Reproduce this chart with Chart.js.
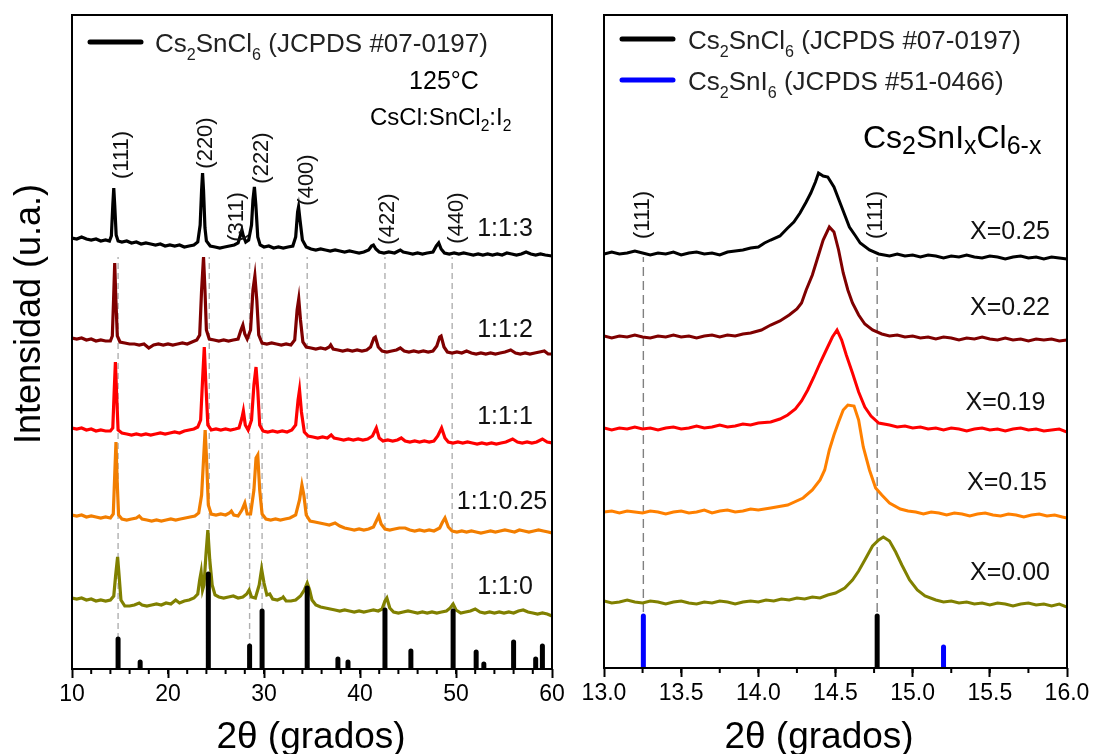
<!DOCTYPE html>
<html>
<head>
<meta charset="utf-8">
<title>XRD Cs2SnIxCl6-x</title>
<script src="https://cdn.jsdelivr.net/npm/chart.js@4.4.0/dist/chart.umd.min.js"></script>
<style>
  html, body { margin: 0; padding: 0; background: #fff; }
  #wrap { position: relative; width: 1113px; height: 754px; }
  #wrap canvas { position: absolute; left: 0; top: 0; }
</style>
</head>
<body>
<div id="wrap">
  <canvas id="left" width="1113" height="754"></canvas>
  <canvas id="right" width="1113" height="754"></canvas>
</div>
<script>
const FONT = '"Liberation Sans", Arial, Helvetica, sans-serif';

// ---------- left panel: 2θ 10-60, intensity (a.u., traces stacked) ----------
const r113 = [
  [10.0, 431], [10.5, 430], [11.0, 432], [11.5, 430], [12.0, 429], [12.5, 430], [13.0, 428], [13.5, 429],
  [13.9, 428], [14.1, 433], [14.25, 464], [14.35, 481], [14.45, 464], [14.6, 434], [14.8, 428], [15.2, 427],
  [15.7, 428], [16.2, 426], [16.7, 427], [17.2, 425], [17.7, 426], [18.2, 425], [18.7, 424], [19.2, 425],
  [19.7, 423], [20.2, 424], [20.7, 423], [21.2, 424], [21.7, 422], [22.2, 423], [22.7, 424], [23.1, 427],
  [23.35, 444], [23.5, 479], [23.6, 496], [23.7, 479], [23.85, 441], [24.0, 428], [24.4, 423], [24.9, 422],
  [25.4, 421], [25.9, 422], [26.4, 423], [26.9, 424], [27.3, 426], [27.55, 434], [27.7, 439], [27.85, 433],
  [28.1, 427], [28.4, 429], [28.7, 444], [28.85, 469], [29.0, 482], [29.15, 464], [29.35, 432], [29.6, 424],
  [30.0, 422], [30.5, 423], [31.0, 421], [31.5, 422], [32.0, 421], [32.5, 422], [33.0, 423], [33.3, 432],
  [33.5, 457], [33.6, 462], [33.75, 449], [34.0, 429], [34.4, 422], [34.9, 420], [35.4, 419], [35.9, 420],
  [36.4, 419], [36.9, 418], [37.4, 419], [37.9, 418], [38.4, 417], [38.9, 418], [39.4, 417], [39.9, 416],
  [40.4, 417], [40.9, 419], [41.2, 423], [41.4, 424], [41.65, 420], [42.0, 417], [42.5, 416], [43.0, 417],
  [43.6, 416], [44.0, 418], [44.2, 419], [44.5, 417], [45.0, 416], [45.5, 415], [46.0, 416], [46.5, 415],
  [47.0, 416], [47.6, 417], [47.95, 423], [48.2, 426], [48.45, 420], [48.8, 416], [49.3, 415], [49.8, 416],
  [50.3, 415], [50.8, 416], [51.3, 415], [51.8, 414], [52.3, 415], [52.8, 414], [53.3, 415], [53.8, 414],
  [54.3, 415], [54.8, 414], [55.3, 416], [55.8, 415], [56.3, 414], [56.8, 415], [57.3, 417], [57.8, 415],
  [58.3, 414], [58.8, 415], [59.3, 414], [60.0, 413]
];
const r112 = [
  [10.0, 331], [10.5, 330], [11.0, 331], [11.5, 329], [12.0, 330], [12.5, 328], [13.0, 329], [13.5, 328],
  [14.0, 328], [14.2, 333], [14.33, 369], [14.45, 406], [14.57, 369], [14.72, 333], [15.0, 327], [15.5, 326],
  [16.0, 325], [16.5, 325], [17.0, 324], [17.5, 325], [18.0, 321], [18.5, 324], [19.0, 325], [19.5, 324],
  [20.0, 325], [20.5, 324], [21.0, 325], [21.5, 326], [22.0, 325], [22.5, 327], [23.0, 329], [23.3, 334],
  [23.5, 379], [23.7, 412], [23.85, 379], [24.0, 339], [24.3, 330], [24.8, 329], [25.3, 328], [25.8, 329],
  [26.3, 328], [26.8, 329], [27.3, 330], [27.6, 339], [27.8, 344], [28.0, 335], [28.25, 330], [28.6, 339],
  [28.85, 379], [29.05, 393], [29.25, 369], [29.45, 334], [29.8, 326], [30.3, 325], [30.8, 326], [31.3, 325],
  [31.8, 324], [32.3, 325], [32.8, 324], [33.2, 329], [33.45, 359], [33.62, 370], [33.8, 349], [34.05, 327],
  [34.4, 322], [34.9, 321], [35.4, 320], [35.9, 321], [36.4, 320], [36.8, 322], [36.95, 324], [37.2, 320],
  [37.7, 319], [38.2, 318], [38.7, 319], [39.2, 318], [39.7, 319], [40.2, 318], [40.7, 319], [41.1, 322],
  [41.45, 331], [41.6, 332], [41.9, 322], [42.3, 318], [42.8, 317], [43.3, 318], [43.8, 319], [44.2, 321],
  [44.6, 318], [45.1, 317], [45.6, 318], [46.1, 317], [46.6, 318], [47.1, 317], [47.6, 318], [48.0, 323],
  [48.3, 332], [48.45, 333], [48.75, 322], [49.1, 317], [49.6, 316], [50.1, 317], [50.6, 316], [51.1, 318],
  [51.6, 316], [52.1, 315], [52.6, 316], [53.1, 315], [53.6, 316], [54.1, 315], [54.6, 316], [55.1, 317],
  [55.7, 319], [56.2, 316], [56.7, 315], [57.2, 316], [57.7, 315], [58.2, 316], [58.7, 317], [59.2, 318],
  [59.6, 315], [60.0, 315]
];
const r111 = [
  [10.0, 241], [10.5, 240], [11.0, 241], [11.5, 239], [12.0, 240], [12.5, 238], [13.0, 239], [13.5, 238],
  [14.0, 238], [14.25, 241], [14.4, 279], [14.52, 307], [14.65, 274], [14.8, 239], [15.2, 236], [15.7, 235],
  [16.2, 234], [16.7, 235], [17.2, 234], [17.7, 235], [18.2, 234], [18.7, 235], [19.2, 236], [19.7, 235],
  [20.2, 236], [20.7, 237], [21.2, 236], [21.7, 238], [22.2, 239], [22.7, 240], [23.1, 242], [23.4, 249],
  [23.6, 289], [23.78, 322], [23.95, 284], [24.15, 244], [24.5, 239], [25.0, 240], [25.5, 239], [26.0, 240],
  [26.5, 239], [27.0, 240], [27.4, 241], [27.7, 251], [27.85, 258], [28.05, 244], [28.35, 239], [28.7, 249],
  [28.95, 284], [29.17, 302], [29.35, 279], [29.55, 244], [29.9, 238], [30.4, 237], [30.9, 238], [31.4, 237],
  [31.9, 238], [32.4, 237], [32.9, 239], [33.3, 244], [33.55, 269], [33.7, 279], [33.9, 257], [34.2, 237],
  [34.6, 233], [35.1, 232], [35.6, 231], [36.1, 232], [36.6, 231], [37.0, 234], [37.3, 231], [37.8, 230],
  [38.3, 229], [38.8, 230], [39.3, 229], [39.8, 230], [40.3, 229], [40.8, 230], [41.3, 233], [41.7, 241],
  [42.0, 231], [42.4, 228], [42.9, 229], [43.4, 228], [43.9, 229], [44.3, 231], [44.7, 228], [45.2, 227],
  [45.7, 228], [46.2, 227], [46.7, 228], [47.2, 227], [47.7, 228], [48.1, 233], [48.5, 241], [48.85, 231],
  [49.2, 227], [49.7, 226], [50.2, 227], [50.7, 226], [51.2, 227], [51.7, 226], [52.2, 225], [52.7, 226],
  [53.2, 225], [53.7, 226], [54.2, 225], [54.7, 226], [55.2, 227], [55.9, 230], [56.4, 227], [56.9, 226],
  [57.4, 227], [57.9, 226], [58.4, 227], [59.0, 230], [59.5, 227], [60.0, 226]
];
const r11025 = [
  [10.0, 154], [10.5, 153], [11.0, 154], [11.5, 152], [12.0, 153], [12.5, 152], [13.0, 151], [13.5, 152],
  [14.0, 151], [14.3, 155], [14.45, 194], [14.58, 227], [14.7, 189], [14.85, 154], [15.2, 150], [15.7, 149],
  [16.2, 150], [16.7, 151], [17.0, 153], [17.3, 150], [17.8, 149], [18.3, 148], [18.8, 149], [19.3, 148],
  [19.8, 149], [20.3, 150], [20.8, 149], [21.3, 150], [21.8, 151], [22.3, 152], [22.8, 153], [23.2, 156],
  [23.5, 174], [23.7, 209], [23.87, 239], [24.02, 209], [24.2, 164], [24.5, 155], [25.0, 154], [25.5, 155],
  [26.0, 154], [26.4, 156], [26.6, 158], [26.85, 154], [27.3, 153], [27.7, 159], [28.0, 166], [28.25, 155],
  [28.6, 155], [28.95, 179], [29.17, 211], [29.35, 214], [29.55, 179], [29.8, 155], [30.2, 150], [30.7, 149],
  [31.2, 150], [31.7, 149], [32.2, 150], [32.7, 151], [33.3, 154], [33.7, 169], [33.95, 184], [34.15, 174],
  [34.4, 154], [34.8, 148], [35.3, 147], [35.8, 146], [36.3, 145], [36.8, 144], [37.4, 146], [37.9, 143],
  [38.4, 141], [38.9, 140], [39.4, 139], [39.9, 140], [40.4, 139], [40.9, 140], [41.4, 142], [41.75, 149],
  [41.95, 153], [42.2, 145], [42.6, 140], [43.1, 139], [43.6, 140], [44.1, 141], [44.7, 141], [45.2, 139],
  [45.7, 138], [46.2, 139], [46.7, 138], [47.2, 139], [47.7, 138], [48.3, 141], [48.6, 147], [48.85, 151],
  [49.2, 142], [49.6, 138], [50.1, 137], [50.6, 138], [51.1, 137], [51.6, 138], [52.1, 137], [52.6, 136],
  [53.1, 137], [53.6, 138], [54.1, 137], [54.6, 138], [55.1, 139], [55.6, 138], [56.1, 137], [56.6, 139],
  [57.1, 138], [57.6, 137], [58.1, 138], [58.6, 139], [59.1, 138], [59.6, 137], [60.0, 136]
];
const r110 = [
  [10.0, 71], [10.5, 70], [11.0, 71], [11.5, 69], [12.0, 70], [12.5, 68], [13.0, 69], [13.5, 68],
  [14.0, 69], [14.35, 73], [14.55, 94], [14.75, 112], [14.9, 94], [15.1, 69], [15.5, 63], [16.0, 63],
  [16.5, 64], [17.0, 66], [17.3, 64], [17.8, 63], [18.3, 64], [18.8, 65], [19.3, 64], [19.8, 66],
  [20.3, 65], [20.8, 69], [21.2, 66], [21.7, 68], [22.2, 69], [22.7, 71], [23.1, 75], [23.3, 89],
  [23.45, 97], [23.6, 79], [23.75, 84], [23.95, 114], [24.15, 139], [24.35, 109], [24.6, 84], [24.9, 74],
  [25.3, 72], [25.8, 71], [26.3, 72], [26.8, 73], [27.3, 71], [27.8, 72], [28.2, 75], [28.45, 79],
  [28.7, 72], [29.1, 71], [29.5, 84], [29.75, 100], [30.0, 86], [30.3, 74], [30.6, 75], [30.9, 70],
  [31.4, 69], [31.9, 71], [32.0, 72], [32.3, 68], [32.8, 68], [33.3, 69], [33.8, 73], [34.2, 79],
  [34.5, 86], [34.75, 79], [35.0, 69], [35.4, 64], [35.9, 62], [36.4, 61], [36.9, 60], [37.4, 59],
  [37.9, 58], [38.4, 59], [38.9, 58], [39.4, 57], [39.9, 58], [40.4, 57], [40.9, 58], [41.4, 59],
  [41.9, 58], [42.3, 60], [42.6, 68], [42.8, 71], [43.1, 61], [43.5, 57], [44.0, 56], [44.5, 57],
  [45.0, 58], [45.5, 57], [46.0, 56], [46.5, 57], [47.0, 56], [47.5, 57], [48.0, 56], [48.5, 57],
  [49.0, 58], [49.4, 61], [49.7, 65], [50.0, 59], [50.5, 56], [51.0, 57], [51.5, 58], [52.0, 60],
  [52.5, 57], [53.0, 56], [53.5, 57], [54.0, 56], [54.5, 57], [55.0, 56], [55.5, 57], [56.0, 56],
  [56.5, 58], [57.0, 59], [57.5, 57], [58.0, 56], [58.5, 55], [59.0, 56], [59.5, 55], [60.0, 53]
];
// Cs2SnCl6 JCPDS #07-0197 reference lines
const clPos = [14.8, 17.1, 24.2, 28.5, 29.8, 34.5, 37.7, 38.75, 42.6, 45.3, 49.7, 52.1, 52.9, 56.0, 58.3, 59.0];
const clInt = [30, 7, 95, 23, 58, 81, 10, 7, 59, 18, 58, 17, 5, 27, 10, 23];
const guidesLeft = [14.8, 24.3, 28.5, 29.8, 34.5, 42.6, 49.6];

// ---------- right panel: 2θ 13-16 ----------
const x025 = [
  [13.0, 414], [13.05, 416], [13.1, 414], [13.15, 415], [13.2, 417], [13.25, 415], [13.3, 413], [13.35, 415],
  [13.4, 414], [13.45, 416], [13.5, 413], [13.55, 415], [13.6, 416], [13.65, 414], [13.7, 415], [13.75, 413],
  [13.8, 416], [13.85, 417], [13.9, 418], [13.95, 420], [14.0, 421], [14.04, 425], [14.08, 428], [14.14, 432],
  [14.19, 440], [14.23, 446], [14.27, 455], [14.31, 466], [14.34, 475], [14.37, 486], [14.39, 495], [14.42, 492],
  [14.45, 491], [14.49, 481], [14.53, 465], [14.56, 453], [14.59, 441], [14.63, 432], [14.66, 425], [14.72, 418],
  [14.78, 414], [14.85, 412], [14.9, 414], [14.95, 412], [15.0, 413], [15.05, 411], [15.1, 413], [15.15, 412],
  [15.2, 410], [15.25, 412], [15.3, 411], [15.35, 413], [15.4, 411], [15.45, 410], [15.5, 412], [15.55, 411],
  [15.6, 409], [15.65, 411], [15.7, 412], [15.75, 410], [15.8, 411], [15.85, 409], [15.9, 411], [15.95, 410],
  [16.0, 409]
];
const x022 = [
  [13.0, 332], [13.05, 330], [13.1, 332], [13.15, 331], [13.2, 333], [13.25, 331], [13.3, 330], [13.35, 332],
  [13.4, 331], [13.45, 333], [13.5, 331], [13.55, 332], [13.6, 330], [13.65, 332], [13.7, 333], [13.75, 331],
  [13.8, 333], [13.85, 332], [13.9, 334], [13.95, 335], [14.02, 338], [14.08, 343], [14.14, 347], [14.2, 353],
  [14.25, 359], [14.28, 365], [14.31, 378], [14.35, 393], [14.38, 408], [14.42, 428], [14.46, 441], [14.49, 436],
  [14.52, 418], [14.55, 395], [14.58, 378], [14.61, 365], [14.65, 353], [14.69, 344], [14.74, 338], [14.8, 334],
  [14.85, 332], [14.9, 333], [14.95, 331], [15.0, 332], [15.05, 330], [15.1, 331], [15.15, 329], [15.2, 331],
  [15.25, 330], [15.3, 328], [15.35, 330], [15.4, 329], [15.45, 331], [15.5, 329], [15.55, 328], [15.6, 330],
  [15.65, 328], [15.7, 329], [15.75, 327], [15.8, 329], [15.85, 328], [15.9, 329], [15.95, 327], [16.0, 328]
];
const x019 = [
  [13.0, 240], [13.05, 238], [13.1, 240], [13.15, 239], [13.2, 241], [13.25, 239], [13.3, 240], [13.35, 238],
  [13.4, 240], [13.45, 241], [13.5, 239], [13.55, 240], [13.6, 242], [13.65, 240], [13.7, 241], [13.75, 243],
  [13.8, 241], [13.85, 242], [13.9, 244], [13.95, 243], [14.0, 245], [14.08, 246], [14.14, 249], [14.19, 253],
  [14.24, 259], [14.28, 267], [14.32, 278], [14.36, 291], [14.4, 305], [14.44, 318], [14.48, 331], [14.51, 338],
  [14.54, 328], [14.57, 313], [14.61, 295], [14.65, 276], [14.69, 261], [14.73, 252], [14.78, 245], [14.85, 243],
  [14.9, 241], [14.95, 242], [15.0, 240], [15.05, 241], [15.1, 239], [15.15, 240], [15.2, 238], [15.25, 240],
  [15.3, 239], [15.35, 237], [15.4, 239], [15.45, 240], [15.5, 238], [15.55, 239], [15.6, 237], [15.65, 239],
  [15.7, 240], [15.75, 238], [15.8, 239], [15.85, 237], [15.9, 238], [15.95, 239], [16.0, 236]
];
const x015 = [
  [13.0, 156], [13.05, 157], [13.1, 155], [13.15, 157], [13.2, 156], [13.25, 155], [13.3, 157], [13.35, 156],
  [13.4, 154], [13.45, 156], [13.5, 157], [13.55, 155], [13.6, 156], [13.65, 158], [13.7, 155], [13.75, 157],
  [13.8, 158], [13.85, 156], [13.9, 157], [13.95, 159], [14.0, 158], [14.08, 160], [14.19, 163], [14.29, 170],
  [14.35, 178], [14.4, 188], [14.43, 198], [14.46, 218], [14.49, 233], [14.52, 246], [14.55, 258], [14.58, 263],
  [14.62, 262], [14.65, 248], [14.68, 221], [14.72, 198], [14.76, 180], [14.8, 173], [14.85, 165], [14.92, 159],
  [14.97, 157], [15.02, 156], [15.07, 154], [15.12, 156], [15.17, 155], [15.22, 153], [15.27, 155], [15.32, 154],
  [15.37, 152], [15.42, 154], [15.47, 155], [15.52, 153], [15.57, 152], [15.62, 154], [15.67, 153], [15.72, 151],
  [15.77, 153], [15.82, 154], [15.87, 152], [15.92, 153], [15.97, 151], [16.0, 150]
];
const x000 = [
  [13.0, 67], [13.05, 65], [13.1, 66], [13.15, 68], [13.2, 66], [13.25, 65], [13.3, 67], [13.35, 66],
  [13.4, 64], [13.45, 66], [13.5, 67], [13.55, 65], [13.6, 64], [13.65, 66], [13.7, 65], [13.75, 67],
  [13.8, 66], [13.85, 64], [13.9, 66], [13.95, 67], [14.0, 66], [14.05, 68], [14.1, 67], [14.15, 69],
  [14.2, 68], [14.25, 70], [14.3, 69], [14.35, 71], [14.4, 70], [14.45, 73], [14.5, 75], [14.56, 80],
  [14.61, 88], [14.65, 97], [14.69, 108], [14.74, 122], [14.78, 128], [14.81, 131], [14.85, 127], [14.89, 116],
  [14.93, 103], [14.98, 88], [15.03, 78], [15.08, 72], [15.15, 68], [15.2, 66], [15.25, 67], [15.3, 65],
  [15.35, 66], [15.4, 64], [15.45, 65], [15.5, 63], [15.55, 65], [15.6, 64], [15.65, 62], [15.7, 64],
  [15.75, 65], [15.8, 63], [15.85, 64], [15.9, 62], [15.95, 64], [16.0, 61]
];
const clPosR = [14.77];
const clIntR = [52];
// Cs2SnI6 JCPDS #51-0466
const iPosR = [13.255, 15.2];
const iIntR = [52, 21];
const guidesRight = [13.255, 14.77];

// ---------- helpers ----------
const xy = (pairs) => pairs.map(([x, y]) => ({ x, y }));
const sticks = (pos, h) => pos.flatMap((x, i) => [{ x, y: 0 }, { x, y: h[i] }, { x, y: null }]);

const trace = (pairs, color, order, width) => ({
  data: xy(pairs),
  borderColor: color,
  borderWidth: width,
  pointRadius: 0,
  tension: 0,
  order,
});
const stickSet = (pos, h, color) => ({
  data: sticks(pos, h),
  borderColor: color,
  borderWidth: 5,
  borderCapStyle: 'round',
  pointRadius: 0,
  spanGaps: false,
  clip: 0,
  order: 0,
});
const guideSet = (pos, top, color, dash) => ({
  data: sticks(pos, pos.map(() => top)),
  borderColor: color,
  borderWidth: 1.4,
  borderDash: dash,
  pointRadius: 0,
  spanGaps: false,
  order: 20,
});

const parseRich = (s) => {
  const parts = [];
  const re = /_\{([^}]*)\}/g;
  let last = 0;
  let m;
  while ((m = re.exec(s))) {
    if (m.index > last) parts.push([s.slice(last, m.index), false]);
    parts.push([m[1], true]);
    last = re.lastIndex;
  }
  if (last < s.length) parts.push([s.slice(last), false]);
  return parts;
};

const drawRich = (ctx, s, x, y, size, sub, align) => {
  const parts = parseRich(s);
  const f = (sz) => `${sz}px ${FONT}`;
  const widths = parts.map(([t, isSub]) => {
    ctx.font = f(isSub ? size * sub.scale : size);
    return ctx.measureText(t).width;
  });
  const total = widths.reduce((a, b) => a + b, 0);
  let cx = align === 'right' ? x - total : align === 'center' ? x - total / 2 : x;
  ctx.textAlign = 'left';
  ctx.textBaseline = 'alphabetic';
  parts.forEach(([t, isSub], i) => {
    ctx.font = f(isSub ? size * sub.scale : size);
    ctx.fillText(t, cx, isSub ? y + sub.drop : y);
    cx += widths[i];
  });
};

const panelPlugin = {
  id: 'panel',
  afterDatasetsDraw(chart, args, opts) {
    const { ctx, chartArea: a } = chart;
    const sx = chart.scales.x;
    const sy = chart.scales.y;
    ctx.save();
    ctx.fillStyle = '#000';
    ctx.strokeStyle = '#000';

    // frame
    ctx.lineWidth = 2;
    ctx.strokeRect(a.left, a.top, a.right - a.left, a.bottom - a.top);

    // minor ticks
    const n = Math.round((sx.max - sx.min) / opts.minorStep);
    for (let i = 1; i < n; i++) {
      const v = sx.min + i * opts.minorStep;
      const px = sx.getPixelForValue(v);
      ctx.beginPath();
      ctx.moveTo(px, a.bottom);
      ctx.lineTo(px, a.bottom + 5);
      ctx.stroke();
    }

    // legend
    opts.legend.forEach((e) => {
      ctx.strokeStyle = e.color;
      ctx.lineWidth = 5;
      ctx.lineCap = 'round';
      ctx.beginPath();
      ctx.moveTo(e.x1, e.y);
      ctx.lineTo(e.x2, e.y);
      ctx.stroke();
      ctx.fillStyle = '#222';
      drawRich(ctx, e.text, e.tx, e.ty, e.size, { scale: 0.62, drop: 8 }, 'left');
    });

    // free text (pixel placed)
    ctx.fillStyle = '#000';
    opts.texts.forEach((t) => {
      ctx.save();
      ctx.translate(t.x, t.y);
      if (t.rotate) ctx.rotate(t.rotate);
      drawRich(ctx, t.text, 0, 0, t.size, t.sub || { scale: 0.62, drop: 6 }, t.align || 'left');
      ctx.restore();
    });

    // rotated hkl labels (data placed)
    ctx.fillStyle = '#111';
    ctx.font = `${opts.hklSize}px ${FONT}`;
    ctx.textAlign = 'center';
    ctx.textBaseline = 'middle';
    opts.hkl.forEach(([txt, x, y]) => {
      ctx.save();
      ctx.translate(sx.getPixelForValue(x), sy.getPixelForValue(y));
      ctx.rotate(-Math.PI / 2);
      ctx.fillText(txt, 0, 0);
      ctx.restore();
    });

    // sample labels (data placed, right aligned)
    ctx.font = `${opts.labelSize}px ${FONT}`;
    ctx.textAlign = 'right';
    opts.labels.forEach(([txt, x, y]) => {
      ctx.fillText(txt, sx.getPixelForValue(x), sy.getPixelForValue(y));
    });
    ctx.restore();
  },
};

const xAxis = (min, max, step, height, fmt) => ({
  type: 'linear',
  min,
  max,
  afterFit: (s) => {
    s.height = height;
    s.paddingLeft = 0;
    s.paddingRight = 0;
  },
  ticks: {
    stepSize: step,
    autoSkip: false,
    maxRotation: 0,
    padding: 3,
    color: '#000',
    font: { family: FONT, size: 23 },
    callback: fmt,
  },
  grid: {
    display: true,
    drawOnChartArea: false,
    drawTicks: true,
    tickLength: 9,
    tickWidth: 2,
    tickColor: '#000',
  },
  border: { display: false },
  title: { display: false },
});

const baseOptions = (padding, scales, panel) => ({
  responsive: false,
  animation: false,
  events: [],
  layout: { padding },
  plugins: { legend: { display: false }, tooltip: { enabled: false }, panel },
  scales,
});

// ---------- left chart ----------
new Chart(document.getElementById('left'), {
  type: 'line',
  data: {
    datasets: [
      stickSet(clPos, clInt, '#000'),
      trace(r113, '#000000', 1, 3.2),
      trace(r112, '#7f0000', 2, 3.2),
      trace(r111, '#ff0000', 3, 3.2),
      trace(r11025, '#f27e00', 4, 3.2),
      trace(r110, '#808000', 5, 3.2),
      guideSet(guidesLeft, 412, '#b0b0b0', [6, 4]),
    ],
  },
  options: baseOptions(
    { left: 72, right: 561, top: 15, bottom: 0 },
    {
      x: xAxis(10, 60, 10, 85, (v) => String(v)),
      y: { display: false, min: 0, max: 654 },
    },
    {
      minorStep: 2,
      legend: [
        { color: '#000', text: 'Cs_{2}SnCl_{6} (JCPDS #07-0197)', x1: 90, x2: 141, y: 42, tx: 155, ty: 52, size: 26 },
      ],
      texts: [
        { text: '125°C', x: 444, y: 89, size: 25, align: 'center' },
        { text: 'CsCl:SnCl_{2}:I_{2}', x: 370, y: 125, size: 24, sub: { scale: 0.65, drop: 6 } },
        { text: 'Intensidad (u.a.)', x: 40, y: 314, size: 36, align: 'center', rotate: -Math.PI / 2 },
        { text: '2θ (grados)', x: 311, y: 748, size: 37, align: 'center' },
      ],
      hklSize: 22,
      hkl: [
        ['(111)', 15.18, 514], ['(220)', 23.93, 526], ['(311)', 27.16, 452], ['(222)', 29.8, 511],
        ['(400)', 34.48, 489], ['(422)', 42.89, 450], ['(440)', 50.07, 451],
      ],
      labelSize: 25,
      labels: [
        ['1:1:3', 58.0, 440], ['1:1:2', 58.0, 339], ['1:1:1', 58.0, 252],
        ['1:1:0.25', 59.5, 167], ['1:1:0', 58.0, 82],
      ],
    }
  ),
  plugins: [panelPlugin],
});

// ---------- right chart ----------
new Chart(document.getElementById('right'), {
  type: 'line',
  data: {
    datasets: [
      stickSet(clPosR, clIntR, '#000'),
      stickSet(iPosR, iIntR, '#0000ff'),
      trace(x025, '#000000', 1, 3),
      trace(x022, '#7f0000', 2, 3),
      trace(x019, '#ff0000', 3, 3),
      trace(x015, '#ff8000', 4, 3),
      trace(x000, '#808000', 5, 3),
      guideSet(guidesRight, 411, '#808080', [9, 5]),
    ],
  },
  options: baseOptions(
    { left: 604, right: 46, top: 15, bottom: 0 },
    {
      x: xAxis(13, 16, 0.5, 86, (v) => Number(v).toFixed(1)),
      y: { display: false, min: 0, max: 653 },
    },
    {
      minorStep: 0.25,
      legend: [
        { color: '#000', text: 'Cs_{2}SnCl_{6} (JCPDS #07-0197)', x1: 622, x2: 673, y: 39, tx: 688, ty: 49, size: 26 },
        { color: '#0000ff', text: 'Cs_{2}SnI_{6} (JCPDS #51-0466)', x1: 622, x2: 673, y: 80, tx: 688, ty: 90, size: 26 },
      ],
      texts: [
        { text: 'Cs_{2}SnI_{x}Cl_{6-x}', x: 863, y: 148, size: 32, sub: { scale: 0.78, drop: 6 } },
        { text: '2θ (grados)', x: 819, y: 748, size: 37, align: 'center' },
      ],
      hklSize: 22,
      hkl: [['(111)', 13.255, 453], ['(111)', 14.76, 453]],
      labelSize: 25,
      labels: [
        ['X=0.25', 15.89, 436], ['X=0.22', 15.89, 360], ['X=0.19', 15.86, 265],
        ['X=0.15', 15.87, 185], ['X=0.00', 15.89, 95],
      ],
    }
  ),
  plugins: [panelPlugin],
});
</script>
</body>
</html>
